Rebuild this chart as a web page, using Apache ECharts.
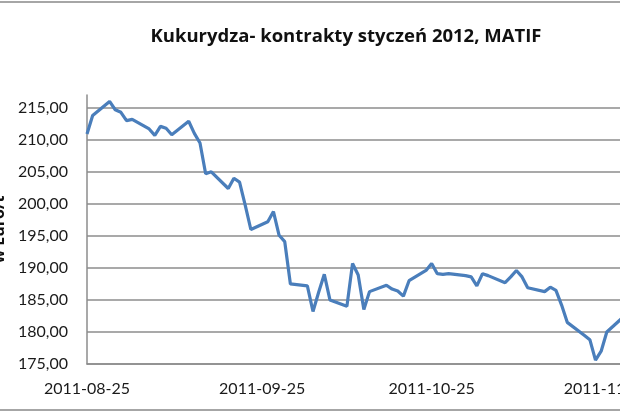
<!DOCTYPE html>
<html>
<head>
<meta charset="utf-8">
<script src="https://cdn.jsdelivr.net/npm/echarts@6/dist/echarts.min.js"></script>
<style>
html,body{margin:0;padding:0;background:#fff;}
#wrap{position:relative;width:620px;height:413px;overflow:hidden;}
#chart{position:absolute;left:0;top:0;width:620px;height:413px;}
.bar{position:absolute;left:0;width:620px;height:2px;background:#a6a6a6;}
</style>
</head>
<body>
<div id="wrap">
<div id="chart"></div>
<div class="bar" style="top:1px"></div>
<div class="bar" style="top:409px"></div>
</div>
<script>
const titleText = 'Kukurydza- kontrakty styczeń 2012, MATIF';
const yAxisName = 'w Euro/t';
const axisStart = '2011-08-25';
const axisEnd = '2011-12-14';
const tradeDates = [
 '2011-08-25','2011-08-26','2011-08-29','2011-08-30','2011-08-31','2011-09-01','2011-09-02',
 '2011-09-05','2011-09-06','2011-09-07','2011-09-08','2011-09-09',
 '2011-09-12','2011-09-13','2011-09-14','2011-09-15','2011-09-16',
 '2011-09-19','2011-09-20','2011-09-21','2011-09-22','2011-09-23',
 '2011-09-26','2011-09-27','2011-09-28','2011-09-29','2011-09-30',
 '2011-10-03','2011-10-04','2011-10-05','2011-10-06','2011-10-07',
 '2011-10-10','2011-10-11','2011-10-12','2011-10-13','2011-10-14',
 '2011-10-17','2011-10-18','2011-10-19','2011-10-20','2011-10-21',
 '2011-10-24','2011-10-25','2011-10-26','2011-10-27','2011-10-28',
 '2011-10-31','2011-11-01','2011-11-02','2011-11-03','2011-11-04',
 '2011-11-07','2011-11-08','2011-11-09','2011-11-10','2011-11-11',
 '2011-11-14','2011-11-15','2011-11-16','2011-11-17','2011-11-18',
 '2011-11-21','2011-11-22','2011-11-23','2011-11-24','2011-11-25',
 '2011-11-28'
];
const prices = [
 210.9,213.8,216.0,214.7,214.3,213.0,213.2,
 211.7,210.7,212.1,211.8,210.8,
 212.9,211.0,209.5,204.7,205.0,
 202.4,204.0,203.4,199.8,196.0,
 197.2,198.8,195.1,194.1,187.5,
 187.2,183.2,186.2,189.0,185.0,
 184.0,190.7,188.9,183.5,186.3,
 187.3,186.7,186.4,185.6,188.0,
 189.6,190.7,189.1,189.0,189.1,
 188.8,188.6,187.2,189.1,188.8,
 187.7,188.6,189.6,188.6,186.9,
 186.3,187.0,186.5,184.2,181.5,
 179.5,178.8,175.6,177.0,180.0,
 182.4
];
const yMin = 175, yMax = 217, yStep = 5;

// calendar-day categories (date axis)
const categories = [];
{
  let d = new Date(axisStart + 'T00:00:00Z');
  const end = new Date(axisEnd + 'T00:00:00Z');
  while (d <= end) {
    categories.push(d.toISOString().slice(0,10));
    d = new Date(d.getTime() + 86400000);
  }
}
const priceMap = {};
tradeDates.forEach((t,i)=>{ priceMap[t] = prices[i]; });
const seriesData = categories.map(c => (c in priceMap ? priceMap[c] : null));

const stepPx = 5.65;
const gridLeft = 87;
const plotWidth = (categories.length - 1) * stepPx;

const chart = echarts.init(document.getElementById('chart'), null, {renderer:'canvas'});
chart.setOption({
  animation: false,
  backgroundColor: '#fff',
  title: {
    text: titleText, left: 341, top: 22, textAlign: 'center',
    textStyle: {fontFamily: 'Open Sans', fontWeight: 'bold', fontSize: 18.5, color: '#111'}
  },
  grid: {left: gridLeft, top: 95, bottom: 49, width: plotWidth, containLabel: false, outerBoundsMode: 'none'},
  xAxis: {
    type: 'category', data: categories, boundaryGap: false,
    axisLine: {show: true, lineStyle: {color: '#8c8c8c', width: 1.5}},
    axisTick: {show: false},
    axisLabel: {
      interval: (i, v) => v.slice(8) === '25',
      fontFamily: 'Lato', fontSize: 16, color: '#1a1a1a', margin: 17
    },
    splitLine: {show: false}
  },
  yAxis: {
    type: 'value', min: yMin, max: yMax, interval: yStep,
    name: yAxisName, nameLocation: 'middle', nameRotate: 90, nameGap: 77,
    nameTextStyle: {fontFamily: 'Open Sans', fontWeight: 'bold', fontSize: 16, color: '#111'},
    axisLine: {show: true, lineStyle: {color: '#8c8c8c', width: 1.5}},
    axisTick: {show: false},
    axisLabel: {
      showMaxLabel: false,
      formatter: v => (v % yStep === 0 ? v.toFixed(2).replace('.', ',') : ''),
      fontFamily: 'Lato', fontSize: 16, color: '#1a1a1a', margin: 19
    },
    splitLine: {show: true, showMaxLine: false, lineStyle: {color: '#8c8c8c', width: 1.5}}
  },
  series: [{
    type: 'line', data: seriesData, connectNulls: true, showSymbol: false,
    lineStyle: {color: '#4a7ebb', width: 3.2}, itemStyle: {color: '#4a7ebb'}
  }]
});
</script>
</body>
</html>
